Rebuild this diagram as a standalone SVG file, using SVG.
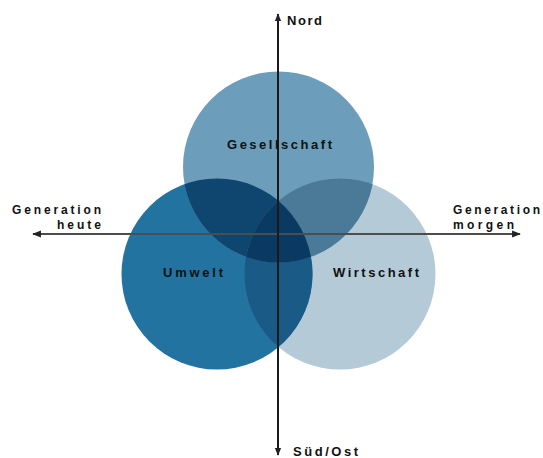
<svg xmlns="http://www.w3.org/2000/svg" width="543" height="458" viewBox="0 0 543 458">
<style>
.lbl{font-family:"Liberation Sans",Arial,sans-serif;font-weight:bold;font-size:13px;fill:#111;}
.ax{font-size:12px;}
</style>
<defs>
<clipPath id="cG"><circle cx="278.5" cy="167" r="95.5"/></clipPath>
<clipPath id="cU"><circle cx="217" cy="274" r="95.5"/></clipPath>
<clipPath id="cW"><circle cx="340" cy="274" r="95.5"/></clipPath>
<marker id="ah" viewBox="0 0 10 10" refX="9" refY="5" markerWidth="4" markerHeight="4" orient="auto-start-reverse">
<path d="M0,1 L10,5 L0,9 z" fill="#222"/>
</marker>
</defs>
<rect width="543" height="458" fill="#fff"/>
<g id="wirtschaft">
<circle cx="340" cy="274" r="95.5" fill="#b4cbd7"/>
</g>
<g id="umwelt">
<circle cx="217" cy="274" r="95.5" fill="#2373a1"/>
</g>
<g id="gesellschaft">
<circle cx="278.5" cy="167" r="95.5" fill="#6c9ebb"/>
</g>
<g id="overlaps">
<g clip-path="url(#cU)"><circle cx="340" cy="274" r="95.5" fill="#195a86"/></g>
<g clip-path="url(#cG)"><circle cx="217" cy="274" r="95.5" fill="#0f4670"/></g>
<g clip-path="url(#cG)"><circle cx="340" cy="274" r="95.5" fill="#4a7a98"/></g>
<g clip-path="url(#cG)"><g clip-path="url(#cU)"><circle cx="340" cy="274" r="95.5" fill="#0a3a62"/></g></g>
</g>
<g id="connectors">
<line x1="520" y1="234" x2="33" y2="234" stroke="#4d4d4d" stroke-width="2.2" marker-start="url(#ah)" marker-end="url(#ah)"/>
<line x1="278" y1="14" x2="278" y2="455" stroke="#1a1a1a" stroke-width="2" marker-start="url(#ah)" marker-end="url(#ah)"/>
</g>
<g id="labels">
<text class="lbl" x="227" y="149" textLength="105" lengthAdjust="spacing">Gesellschaft</text>
<text class="lbl" x="163" y="277" textLength="60" lengthAdjust="spacing">Umwelt</text>
<text class="lbl" x="333" y="277" textLength="86" lengthAdjust="spacing">Wirtschaft</text>
<text class="lbl" x="287" y="25" textLength="35" lengthAdjust="spacing">Nord</text>
<text class="lbl" x="293" y="456" textLength="65" lengthAdjust="spacing">Süd/Ost</text>
<text class="lbl ax" x="12" y="214" textLength="89" lengthAdjust="spacing">Generation</text>
<text class="lbl ax" x="57" y="228.5" textLength="44" lengthAdjust="spacing">heute</text>
<text class="lbl ax" x="453" y="214" textLength="87" lengthAdjust="spacing">Generation</text>
<text class="lbl ax" x="453" y="228.5" textLength="61" lengthAdjust="spacing">morgen</text>
</g>
</svg>
